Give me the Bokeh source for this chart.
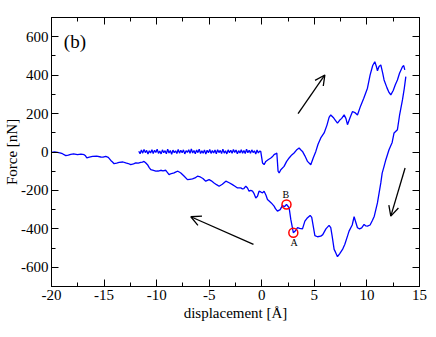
import numpy as np
from bokeh.plotting import figure
from bokeh.models import Arrow, OpenHead, LinearAxis, SingleIntervalTicker, Range1d, CustomJSTickFormatter
from bokeh.core.properties import value
from bokeh.embed import file_html
from bokeh.resources import INLINE

# approach branch, flat noisy part (sampled evenly from x=-11.7 to x=-0.2)
flat_start, flat_end = -11.7, -0.2
flat_y = [4, -9, 10, -6, 13, -3, 8, -11, 6, -5,
          12, -8, 9, -2, 14, -7, 5, -10, 11, -4,
          7, -9, 15, -5, 8, -12, 10, -3, 6, -8,
          13, -6, 9, -4, 11, -10, 7, -2, 12, -7,
          16, -5, 8, -9, 10, -3, 14, -8, 6, -6,
          11, -11, 9, -4, 13, -7, 7, -5, 10, -9,
          12, -3, 8, -8, 15, -6, 6, -10, 11, -4,
          9, -7, 13, -2, 10, -9, 7, -5, 12, -6,
          8, -8, 14, -4, 9, -7, 11, -3, 6, -10,
          10, -5, 4]

# approach branch, rising part
rise_x = [-0.1, 0.07, 0.22, 0.38, 0.6, 0.86, 1.0, 1.17, 1.3, 1.43,
          1.55, 1.65, 1.81, 2.12, 2.35, 2.6, 2.85, 3.07, 3.3, 3.55,
          3.7, 3.87, 4.1, 4.35, 4.66, 4.9, 5.14, 5.35, 5.61, 5.93,
          6.2, 6.4, 6.56, 6.8, 7.0, 7.2, 7.4, 7.6, 7.83, 8.0,
          8.15, 8.4, 8.63, 8.85, 9.1, 9.4, 9.7, 10.05, 10.3, 10.55,
          10.75, 10.9, 11.0, 11.15, 11.32, 11.5, 11.63, 11.9, 12.1, 12.27,
          12.5, 12.7, 12.9, 13.1, 13.38, 13.5, 13.6]
rise_y = [3, -57, -66, -49, -40, -31, -25, -14, -10, -5,
          -100, -109, -92, -75, -50, -31, -15, -5, 10, 21,
          12, 3, -20, -49, -66, -30, 3, 40, 73, 99,
          140, 180, 193, 180, 165, 150, 165, 175, 193, 175,
          142, 180, 211, 205, 193, 240, 280, 332, 400, 450,
          470, 445, 423, 445, 453, 410, 375, 335, 310, 297,
          320, 350, 375, 410, 444, 450, 427]

# retraction branch (lower curve), right to left
retract_x = [13.7, 13.55, 13.38, 13.1, 12.9, 12.58, 12.4, 12.1, 11.8, 11.63,
             11.45, 11.32, 11.0, 10.7, 10.53, 10.3, 10.05, 9.9, 9.73, 9.5,
             9.3, 9.1, 8.78, 8.6, 8.3, 8.15, 7.9, 7.68, 7.4, 7.2,
             7.0, 6.88, 6.7, 6.56, 6.4, 6.1, 5.8, 5.61, 5.3, 5.05,
             4.75, 4.6, 4.3, 4.1, 3.87, 3.6, 3.4, 3.2, 3.0, 2.76,
             2.6, 2.35, 2.15, 1.97, 1.75, 1.49, 1.3, 1.17, 0.9, 0.7,
             0.54, 0.4, 0.22, 0.07, -0.1, -0.26, -0.41, -0.57, -0.75, -0.88,
             -1.05, -1.21, -1.36, -1.52, -1.7, -1.84, -2.0, -2.31, -2.55, -2.79,
             -3.1, -3.42, -3.75, -4.06, -4.3, -4.54, -4.8, -5.01, -5.33, -5.6,
             -5.85, -6.12, -6.35, -6.59, -6.85, -7.07, -7.4, -7.7, -7.85, -8.02,
             -8.2, -8.34, -8.6, -8.82, -9.0, -9.13, -9.4, -9.61, -9.85, -10.08,
             -10.3, -10.56, -10.72, -10.87, -11.05, -11.2, -11.35, -11.51, -11.75, -11.98,
             -12.2, -12.46, -12.7, -12.94, -13.2, -13.57, -13.8, -14.05, -14.2, -14.36,
             -14.6, -14.84, -15.1, -15.31, -15.7, -16.1, -16.4, -16.64, -16.8, -16.9,
             -17.2, -17.53, -17.9, -18.17, -18.4, -18.64, -18.96, -19.2, -19.43, -19.7,
             -20.0]
retract_y = [392, 330, 271, 190, 116, 99, 50, 12, -40, -75,
             -110, -161, -265, -334, -355, -380, -386, -385, -377, -395,
             -400, -394, -337, -380, -412, -438, -480, -507, -530, -545,
             -520, -507, -440, -394, -382, -400, -430, -438, -441, -435,
             -340, -330, -345, -360, -400, -398, -394, -410, -420, -351,
             -290, -273, -285, -278, -300, -308, -295, -282, -265, -255,
             -247, -225, -204, -213, -208, -204, -230, -239, -215, -204,
             -200, -204, -187, -178, -190, -192, -187, -187, -178, -170,
             -160, -152, -168, -178, -170, -161, -150, -144, -152, -138,
             -130, -126, -135, -140, -142, -144, -125, -109, -104, -100,
             -105, -109, -112, -118, -105, -95, -98, -95, -99, -100,
             -96, -92, -80, -66, -56, -49, -53, -54, -58, -57,
             -62, -66, -60, -57, -52, -54, -58, -61, -52, -44,
             -28, -23, -27, -26, -22, -23, -27, -31, -18, -14,
             -11, -14, -10, -12, -16, -19, -9, -4, -2, 0,
             -2]

# marked points A and B
mark_x = [3.0, 2.35]
mark_y = [-420, -273]
mark_labels = ["A", "B"]
label_x = [3.07, 2.28]
label_y = [-472, -221]

# arrows (start x, start y, end x, end y)
arrows = [(3.45, 200, 6.0, 401), (13.63, -83, 12.27, -334), (-0.79, -481, -6.75, -337)]

FONT = "Liberation Serif"

flat_x = list(np.linspace(flat_start, flat_end, len(flat_y)))
approach_x = flat_x + rise_x
approach_y = flat_y + rise_y

p = figure(frame_width=368, frame_height=269, x_range=Range1d(-20, 15), y_range=Range1d(-700, 700),
           output_backend="svg", toolbar_location=None,
           x_axis_label="displacement [Å]", y_axis_label="Force [nN]",
           min_border_left=51, min_border_right=10, min_border_top=17, min_border_bottom=45)
p.grid.visible = False
p.outline_line_color = "black"
p.outline_line_width = 1
p.background_fill_color = "white"
p.border_fill_color = "white"

xt = SingleIntervalTicker(interval=5, num_minor_ticks=2)
yt = SingleIntervalTicker(interval=200, num_minor_ticks=2)
p.xaxis.ticker = xt
p.yaxis.ticker = yt
p.add_layout(LinearAxis(ticker=xt), "above")
p.add_layout(LinearAxis(ticker=yt), "right")

plain = CustomJSTickFormatter(code="return tick.toString();")
for ax in p.axis:
    ax.axis_line_color = "black"
    ax.major_tick_in = 7
    ax.major_tick_out = 0
    ax.minor_tick_in = 4
    ax.minor_tick_out = 0
    ax.major_tick_line_color = "black"
    ax.minor_tick_line_color = "black"
    ax.major_label_text_font = FONT
    ax.major_label_text_font_size = "15px"
    ax.major_label_text_color = "black"
    ax.axis_label_text_font = FONT
    ax.axis_label_text_font_size = "15px"
    ax.axis_label_text_font_style = "normal"
    ax.axis_label_text_color = "black"
    ax.major_label_standoff = 3
    ax.axis_label_standoff = 2
    ax.formatter = plain

p.yaxis[0].axis_label_standoff = -2

for ax in p.above + p.right:
    ax.formatter = CustomJSTickFormatter(code="return '';")
    ax.major_label_standoff = 0

p.line(approach_x, approach_y, line_color="#0000ff", line_width=1.3)
p.line(retract_x, retract_y, line_color="#0000ff", line_width=1.3)
p.scatter(mark_x, mark_y, marker="circle", size=9, fill_color=None,
          line_color="red", line_width=1.5)
p.text(label_x, label_y, text=mark_labels, text_font=value(FONT), text_font_size="10px",
       text_align="center", text_baseline="middle", text_color="black")
p.text([-18.83], [577], text=["(b)"], text_font=value(FONT), text_font_size="19px",
       text_baseline="alphabetic", text_color="black")

for (x0, y0, x1, y1) in arrows:
    p.add_layout(Arrow(end=OpenHead(size=10, line_width=1.3, line_color="black"),
                       x_start=x0, y_start=y0, x_end=x1, y_end=y1,
                       line_width=1.3, line_color="black"))

open("out.html", "w").write(file_html(p, INLINE))
